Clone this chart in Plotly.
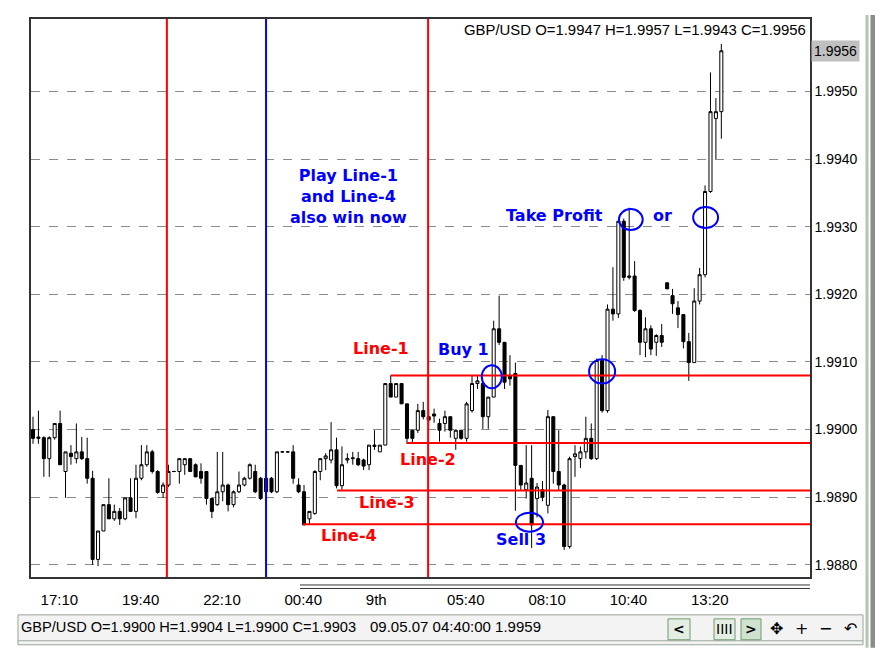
import pandas as pd
import plotly.graph_objects as go

# GBP/USD 10-minute bars, 8-9 May 2007
times = pd.date_range("2007-05-08 16:50", periods=128, freq="10min")
bars = times.strftime("%d %H:%M").tolist()

open_ = [
    1.99000, 1.98989, 1.98988, 1.98957, 1.98988, 1.99009, 1.98938, 1.98965, 1.98957, 1.98967,
    1.98957, 1.98928, 1.98808, 1.98850, 1.98889, 1.98868, 1.98879, 1.98868, 1.98899, 1.98879,
    1.98928, 1.98948, 1.98967, 1.98938, 1.98907, 1.98918, 1.98938, 1.98938, 1.98948, 1.98957,
    1.98948, 1.98938, 1.98938, 1.98898, 1.98889, 1.98908, 1.98918, 1.98889, 1.98908, 1.98918,
    1.98928, 1.98938, 1.98928, 1.98908, 1.98928, 1.98908, 1.98967, 1.98967, 1.98967, 1.98918,
    1.98908, 1.98868, 1.98876, 1.98938, 1.98957, 1.98955, 1.98970, 1.98917, 1.98955, 1.98957,
    1.98957, 1.98955, 1.98948, 1.98977, 1.98967, 1.98977, 1.99068, 1.99048, 1.99068, 1.99038,
    1.98999, 1.98999, 1.99028, 1.99019, 1.99023, 1.99009, 1.99009, 1.99019, 1.98987, 1.98999,
    1.98987, 1.99028, 1.99068, 1.99068, 1.99019, 1.99048, 1.99149, 1.99129, 1.99080, 1.99083,
    1.98947, 1.98911, 1.98928, 1.98898, 1.98911, 1.98888, 1.99019, 1.98938, 1.98918, 1.98827,
    1.98960, 1.98957, 1.98967, 1.98987, 1.98957, 1.99102, 1.99028, 1.99178, 1.99171, 1.99308,
    1.99225, 1.99227, 1.99176, 1.99129, 1.99149, 1.99129, 1.99139, 1.99217, 1.99198, 1.99180,
    1.99170, 1.99130, 1.99099, 1.99190, 1.99229, 1.99352, 1.99460, 1.99470]

high = [
    1.99019, 1.99028, 1.98990, 1.98990, 1.99009, 1.99028, 1.98967, 1.98977, 1.99009, 1.98989,
    1.98988, 1.98939, 1.98850, 1.98889, 1.98928, 1.98889, 1.98884, 1.98899, 1.98928, 1.98948,
    1.98977, 1.98977, 1.98970, 1.98940, 1.98922, 1.98948, 1.98939, 1.98957, 1.98957, 1.98957,
    1.98950, 1.98950, 1.98938, 1.98898, 1.98967, 1.98967, 1.98920, 1.98910, 1.98938, 1.98930,
    1.98950, 1.98948, 1.98930, 1.98930, 1.98930, 1.98967, 1.98968, 1.98968, 1.98977, 1.98928,
    1.98918, 1.98879, 1.98940, 1.98957, 1.98965, 1.99011, 1.98988, 1.98975, 1.98965, 1.98967,
    1.98967, 1.98957, 1.98977, 1.98999, 1.98977, 1.99068, 1.99080, 1.99068, 1.99068, 1.99038,
    1.98999, 1.99038, 1.99041, 1.99030, 1.99031, 1.99016, 1.99028, 1.99019, 1.99000, 1.98999,
    1.99041, 1.99080, 1.99080, 1.99068, 1.99048, 1.99161, 1.99198, 1.99129, 1.99110, 1.99099,
    1.98947, 1.98977, 1.98977, 1.98921, 1.98924, 1.99029, 1.99020, 1.98999, 1.98920, 1.98960,
    1.98977, 1.98975, 1.99019, 1.99009, 1.99105, 1.99110, 1.99185, 1.99240, 1.99308, 1.99312,
    1.99328, 1.99249, 1.99178, 1.99166, 1.99154, 1.99141, 1.99156, 1.99217, 1.99208, 1.99190,
    1.99170, 1.99143, 1.99209, 1.99239, 1.99361, 1.99528, 1.99490, 1.99570]

low = [
    1.98979, 1.98979, 1.98930, 1.98930, 1.98985, 1.98948, 1.98899, 1.98948, 1.98950, 1.98955,
    1.98920, 1.98800, 1.98798, 1.98850, 1.98868, 1.98865, 1.98859, 1.98866, 1.98879, 1.98869,
    1.98925, 1.98945, 1.98935, 1.98905, 1.98899, 1.98915, 1.98937, 1.98920, 1.98933, 1.98938,
    1.98930, 1.98920, 1.98889, 1.98869, 1.98887, 1.98894, 1.98879, 1.98885, 1.98906, 1.98916,
    1.98926, 1.98906, 1.98896, 1.98894, 1.98906, 1.98906, 1.98966, 1.98966, 1.98920, 1.98906,
    1.98859, 1.98859, 1.98874, 1.98925, 1.98940, 1.98950, 1.98913, 1.98911, 1.98950, 1.98948,
    1.98946, 1.98940, 1.98940, 1.98970, 1.98967, 1.98977, 1.99048, 1.99048, 1.99038, 1.98979,
    1.98980, 1.98995, 1.99015, 1.99005, 1.99010, 1.98982, 1.98997, 1.98988, 1.98970, 1.98985,
    1.98982, 1.99025, 1.99060, 1.99001, 1.99001, 1.99048, 1.99125, 1.99060, 1.99065, 1.98880,
    1.98910, 1.98898, 1.98825, 1.98870, 1.98894, 1.98876, 1.98920, 1.98910, 1.98822, 1.98824,
    1.98930, 1.98943, 1.98957, 1.98955, 1.98955, 1.99025, 1.99025, 1.99161, 1.99165, 1.99220,
    1.99222, 1.99174, 1.99110, 1.99107, 1.99110, 1.99109, 1.99122, 1.99208, 1.99171, 1.99150,
    1.99120, 1.99072, 1.99099, 1.99185, 1.99225, 1.99350, 1.99400, 1.99430]

close = [
    1.98987, 1.98987, 1.98957, 1.98988, 1.99009, 1.98948, 1.98967, 1.98960, 1.98967, 1.98957,
    1.98928, 1.98808, 1.98850, 1.98889, 1.98868, 1.98879, 1.98868, 1.98899, 1.98879, 1.98928,
    1.98948, 1.98967, 1.98938, 1.98907, 1.98918, 1.98938, 1.98938, 1.98957, 1.98957, 1.98938,
    1.98930, 1.98928, 1.98898, 1.98879, 1.98908, 1.98918, 1.98889, 1.98908, 1.98918, 1.98928,
    1.98948, 1.98908, 1.98898, 1.98928, 1.98908, 1.98967, 1.98967, 1.98967, 1.98928, 1.98908,
    1.98859, 1.98879, 1.98938, 1.98957, 1.98961, 1.98970, 1.98917, 1.98948, 1.98957, 1.98958,
    1.98948, 1.98946, 1.98977, 1.98975, 1.98977, 1.99068, 1.99048, 1.99068, 1.99038, 1.98987,
    1.98987, 1.99028, 1.99019, 1.99014, 1.99020, 1.98999, 1.99019, 1.98999, 1.98999, 1.98987,
    1.99038, 1.99068, 1.99072, 1.99019, 1.99048, 1.99149, 1.99129, 1.99070, 1.99075, 1.98947,
    1.98918, 1.98921, 1.98859, 1.98915, 1.98900, 1.99019, 1.98938, 1.98918, 1.98827, 1.98957,
    1.98964, 1.98967, 1.98987, 1.98957, 1.99102, 1.99028, 1.99178, 1.99171, 1.99308, 1.99225,
    1.99227, 1.99176, 1.99129, 1.99149, 1.99119, 1.99139, 1.99129, 1.99208, 1.99186, 1.99170,
    1.99130, 1.99099, 1.99190, 1.99229, 1.99352, 1.99470, 1.99470, 1.99560]

# axis labels
time_tick_bars = [2, 17, 32, 47, 62, 77, 92, 107, 122]
time_tick_text = ["17:10", "19:40", "22:10", "00:40", "9th", "05:40", "08:10", "10:40", "13:20"]
price_ticks = [1.9880, 1.9890, 1.9900, 1.9910, 1.9920, 1.9930, 1.9940, 1.9950]

# trader's drawings
level_names = ["Line-1", "Line-2", "Line-3", "Line-4"]
level_price = [1.9908, 1.9898, 1.9891, 1.9886]
level_start = [66.0, 69.0, 56.1, 49.8]
level_lab_x = [64.2, 72.9, 65.3, 58.3]
level_lab_y = [1.99120, 1.98955, 1.98892, 1.98844]

vline_x = [24.7, 43.0, 72.9]
vline_col = ["#ff0000", "#0000ff", "#ff0000"]

note_text = ["Play Line-1<br>and Line-4<br>also win now", "Take Profit", "or", "Buy 1", "Sell 3"]
note_x = [58.3, 96.3, 116.2, 79.5, 90.0]
note_y = [1.99345, 1.99316, 1.99316, 1.99118, 1.98837]

# ellipses: x0, x1, y0, y1
rings = [
    (82.8, 86.5, 1.99061, 1.99095),
    (102.6, 107.4, 1.99068, 1.99104),
    (89.1, 94.1, 1.98849, 1.98877),
    (108.1, 112.5, 1.99295, 1.99326),
    (121.8, 126.4, 1.99298, 1.99329),
]

x_range = [-0.37, 143.36]
y_range = [1.98782, 1.99607]

# the page has an 8px body margin, so the figure is drawn 8px in from the window corner
OFF = 8
W, H = 886 - OFF, 654 - OFF
L, R, T, B = 31 - OFF, 810 - OFF, 17 - OFF, 577 - OFF


def px(x):
    # window pixel -> paper x
    return (x - OFF - L) / (R - L)


def py(y):
    # window pixel -> paper y
    return (B - (y - OFF)) / (B - T)


fig = go.Figure(go.Candlestick(
    x=bars, open=open_, high=high, low=low, close=close,
    increasing=dict(line=dict(color="black", width=1), fillcolor="white"),
    decreasing=dict(line=dict(color="black", width=1), fillcolor="black"),
    hoverinfo="skip",
))

shapes = []
for x, c in zip(vline_x, vline_col):
    shapes.append(dict(type="line", xref="x", yref="paper", x0=x, x1=x, y0=0, y1=1,
                       line=dict(color=c, width=2)))
for p, s in zip(level_price, level_start):
    shapes.append(dict(type="line", xref="x", yref="y", x0=s, x1=x_range[1], y0=p, y1=p,
                       line=dict(color="#ff0000", width=2)))
for x0, x1, y0, y1 in rings:
    shapes.append(dict(type="circle", xref="x", yref="y", x0=x0, x1=x1, y0=y0, y1=y1,
                       line=dict(color="#0000ff", width=2)))

# scroll marker under the chart
for yy in (585, 588.5):
    shapes.append(dict(type="line", xref="paper", yref="paper", x0=px(300), x1=px(810),
                       y0=py(yy), y1=py(yy), line=dict(color="#333333", width=1)))
# right window edge
shapes.append(dict(type="rect", xref="paper", yref="paper", x0=px(865.5), x1=px(868.5),
                   y0=py(648), y1=py(13), fillcolor="#b4c6b4", line=dict(width=0)))
shapes.append(dict(type="rect", xref="paper", yref="paper", x0=px(870.5), x1=px(875),
                   y0=py(648), y1=py(13), fillcolor="#8c8c8c", line=dict(width=0)))
# status bar
shapes.append(dict(type="rect", xref="paper", yref="paper", x0=px(18), x1=px(863),
                   y0=py(645), y1=py(615), fillcolor="#f3f3f3",
                   line=dict(color="#98a698", width=1)))
shapes.append(dict(type="line", xref="paper", yref="paper", x0=px(18), x1=px(863),
                   y0=py(641), y1=py(641), line=dict(color="#9aa89a", width=1)))
for x0, x1, fill in [(668, 690, "#e4eee4"), (714, 735, "#e4eee4"), (741, 761, "#cfe2cf")]:
    shapes.append(dict(type="rect", xref="paper", yref="paper", x0=px(x0), x1=px(x1),
                       y0=py(640), y1=py(619), fillcolor=fill,
                       line=dict(color="#6f9a6f", width=1)))

annotations = []
for t, x, y in zip(note_text, note_x, note_y):
    annotations.append(dict(text="<b>%s</b>" % t, x=x, y=y, xref="x", yref="y",
                            showarrow=False, font=dict(family="DejaVu Sans", size=16, color="#0000ff")))
for t, x, y in zip(level_names, level_lab_x, level_lab_y):
    annotations.append(dict(text="<b>%s</b>" % t, x=x, y=y, xref="x", yref="y",
                            showarrow=False, font=dict(family="DejaVu Sans", size=16, color="#ff0000")))

annotations += [
    dict(text="GBP/USD O=1.9947 H=1.9957 L=1.9943 C=1.9956", xref="paper", yref="paper",
         x=px(808), y=py(28), xanchor="right", yanchor="middle", showarrow=False,
         font=dict(size=14.9)),
    dict(text="%.4f" % close[-1], xref="paper", yref="y", x=1, y=close[-1], xanchor="left",
         xshift=1, showarrow=False, bgcolor="#c0c0c0", borderpad=2, font=dict(size=14)),
    dict(text="GBP/USD O=1.9900 H=1.9904 L=1.9900 C=1.9903", xref="paper", yref="paper",
         x=px(19), y=py(627), xanchor="left", yanchor="middle", showarrow=False,
         font=dict(size=14.6)),
    dict(text="09.05.07 04:40:00 1.9959", xref="paper", yref="paper",
         x=px(368), y=py(627), xanchor="left", yanchor="middle", showarrow=False,
         font=dict(size=15)),
]
for t, x in [("<b>&lt;</b>", 679), ("IIII", 724.5), ("<b>&gt;</b>", 751),
             ("✥", 776), ("+", 801), ("−", 825), ("↶", 850)]:
    annotations.append(dict(text=t, xref="paper", yref="paper", x=px(x), y=py(629),
                            xanchor="center", yanchor="middle", showarrow=False,
                            font=dict(family="DejaVu Sans", size=14 if len(t) > 1 else 16)))

fig.update_layout(
    width=W, height=H,
    margin=dict(l=L, r=W - R, t=T, b=H - B),
    paper_bgcolor="white", plot_bgcolor="white",
    showlegend=False,
    boxgap=0.2,
    font=dict(family="Liberation Sans", size=14, color="black"),
    shapes=shapes, annotations=annotations,
    xaxis=dict(
        type="category", range=x_range, rangeslider=dict(visible=False),
        showgrid=False, showline=True, linecolor="#333333", linewidth=1.5, mirror=True,
        tickmode="array", tickvals=[bars[i] for i in time_tick_bars], ticktext=time_tick_text,
        ticks="", ticklabelstandoff=8, ticklabelshift=-4,
        ticklabelposition="outside right", tickfont=dict(size=15),
    ),
    yaxis=dict(
        side="right", range=y_range, tickmode="array", tickvals=price_ticks,
        ticktext=["%.4f" % v for v in price_ticks],
        showgrid=True, gridcolor="#8a8a8a", griddash="dash", gridwidth=1,
        showline=True, linecolor="#333333", linewidth=1.5, mirror=True,
        ticks="", zeroline=False, tickfont=dict(size=14),
    ),
)

fig.write_html("out.html")
